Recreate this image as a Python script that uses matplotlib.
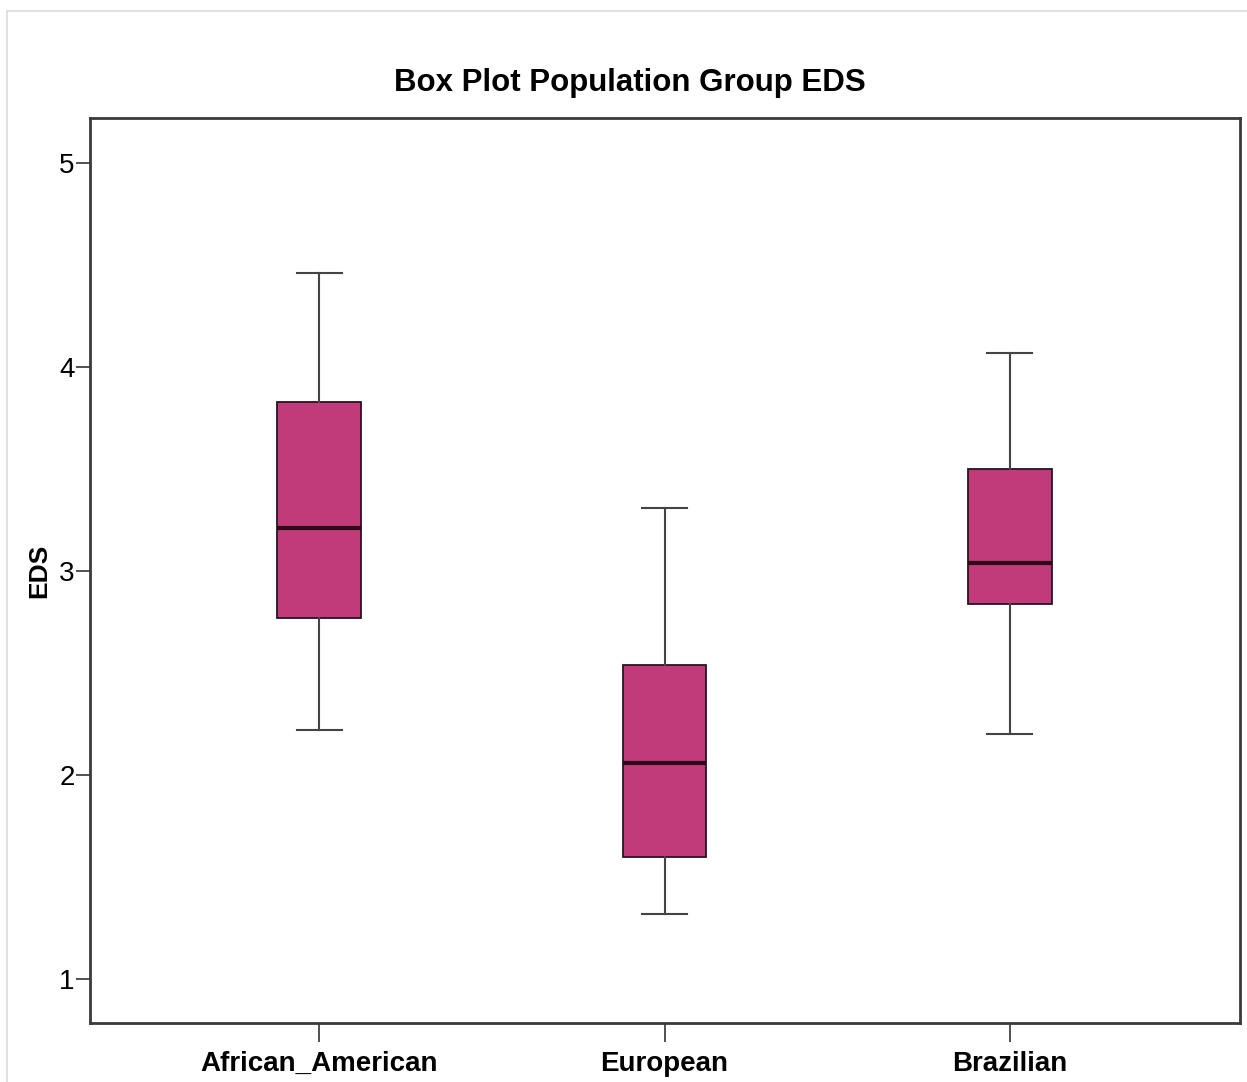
import matplotlib.pyplot as plt
from matplotlib.patches import Rectangle

plt.rcParams['font.family'] = ['Liberation Sans', 'DejaVu Sans']

# five-number summaries per population group
groups = ["African_American", "European", "Brazilian"]
whisker_low = [2.22, 1.32, 2.20]
q1 = [2.77, 1.60, 2.84]
medians = [3.21, 2.06, 3.04]
q3 = [3.83, 2.54, 3.50]
whisker_high = [4.46, 3.31, 4.07]

stats = []
for i in range(len(groups)):
    stats.append({
        "label": groups[i],
        "whislo": whisker_low[i],
        "q1": q1[i],
        "med": medians[i],
        "q3": q3[i],
        "whishi": whisker_high[i],
        "fliers": [],
    })

fig = plt.figure(figsize=(12.47, 10.82), dpi=100)
ax = fig.add_axes([0.0722, 0.0545, 0.9222, 0.8364])

# light frame round the chart area
fig.patches.append(Rectangle((0.0056, -0.05), 1.2, 1.04, transform=fig.transFigure,
                             fill=False, edgecolor="#dcdcdc", linewidth=1.2))

ax.bxp(stats, positions=[0, 1, 2], widths=0.243, patch_artist=True,
       showfliers=False,
       boxprops=dict(facecolor="#c13b7a", edgecolor="#2a1420", linewidth=1.3),
       medianprops=dict(color="#2e0818", linewidth=3),
       whiskerprops=dict(color="#444444", linewidth=1.5),
       capprops=dict(color="#444444", linewidth=1.5),
       capwidths=0.13)

ax.set_xlim(-0.663, 2.666)
ax.set_ylim(0.784, 5.22)
ax.set_yticks([1, 2, 3, 4, 5])
ax.set_xticks([0, 1, 2])
ax.set_xticklabels(groups, fontsize=20, fontweight="bold")
ax.tick_params(axis="y", labelsize=20, length=10, width=1.2, pad=1, color="#333333")
ax.tick_params(axis="x", length=14, width=1.2, pad=6, color="#333333")

for s in ax.spines.values():
    s.set_linewidth(2)
    s.set_color("#3a3a3a")

ax.set_ylabel("EDS", fontsize=19, fontweight="bold", labelpad=6)
fig.text(0.505, 1 - 83 / 1082, "Box Plot Population Group EDS", fontsize=22.5,
         fontweight="bold", ha="center", va="center")

fig.savefig("out.png", dpi=100)
